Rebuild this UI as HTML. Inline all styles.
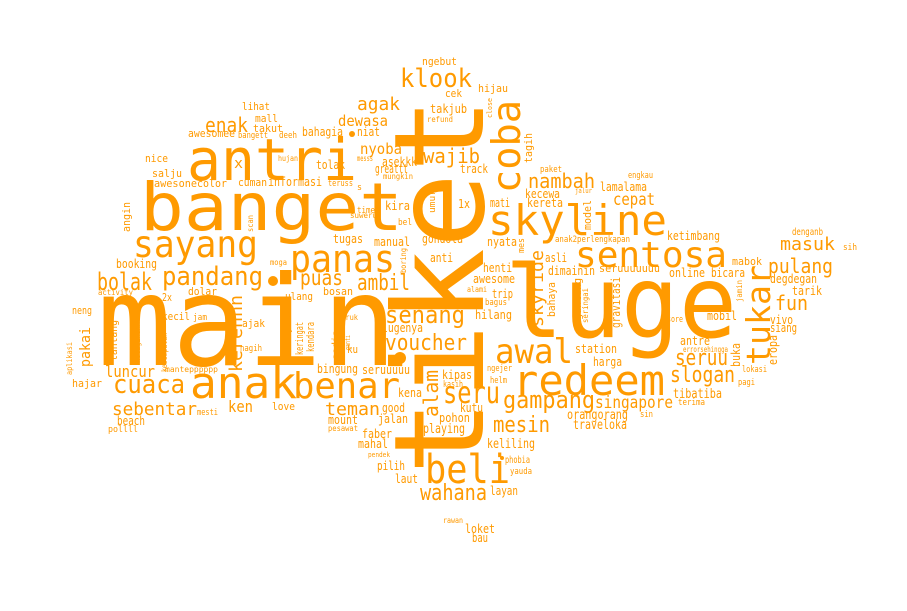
<!DOCTYPE html>
<html><head><meta charset="utf-8"><style>
html,body{margin:0;padding:0;background:#fff;}
svg{display:block}
text{font-family:"DejaVu Sans Mono","Liberation Mono",monospace;fill:#ff9a00;}
</style></head><body>
<svg width="907" height="611" viewBox="0 0 907 611" xmlns="http://www.w3.org/2000/svg">
<g id="dots">
<circle cx="400" cy="358" r="6" fill="#ff9a00"/>
<circle cx="273" cy="281" r="5" fill="#ff9a00"/>
<circle cx="352" cy="134" r="3" fill="#ff9a00"/>
<circle cx="502" cy="458" r="2" fill="#ff9a00"/>
</g>
<g id="words"></g>
</svg>
<script>
// [word, x, baselineY, fontSize, length, vertical]
const words = [
["main",97,365,125,300,0],
["tiket",483,475,125,378,1],
["luge",505,337,100,232,0],
["banget",140,230,66,263,0],
["antri",187,180,58,170,0],
["coba",520,193,39,93,1],
["skyline",488,235,42,179,0],
["sayang",133,257,37,125,0],
["panas",290,272,38,105,0],
["sentosa",575,267,36,152,0],
["anak",190,398,44,107,0],
["benar",293,398,36,107,0],
["redeem",513,395,42,152,0],
["awal",495,363,34,78,0],
["beli",425,483,40,85,0],
["tukar",770,365,33,100,1],
["klook",400,87,26,72,0],
["agak",357,110,18,43,0],
["enak",205,132,20,43,0],
["dewasa",338,126,15,50,0],
["nyoba",360,154,15,42,0],
["wajib",423,163,20,57,0],
["nambah",528,188,20,67,0],
["cepat",613,205,17,42,0],
["pandang",162,285,26,101,0],
["puas",300,285,21,43,0],
["ambil",357,290,22,53,0],
["bolak",97,290,24,55,0],
["senang",385,323,24,80,0],
["voucher",385,350,22,82,0],
["seru",443,403,30,57,0],
["gampang",503,408,24,92,0],
["seruu",675,365,22,53,0],
["slogan",670,382,22,65,0],
["pulang",768,273,20,65,0],
["masuk",780,250,18,55,0],
["fun",775,310,20,33,0],
["cuaca",113,393,26,72,0],
["sebentar",112,415,18,85,0],
["ken",228,412,16,25,0],
["teman",325,415,18,55,0],
["mesin",493,432,22,57,0],
["wahana",420,500,22,67,0],
["skyride",543,327,18,77,1],
["alam",438,417,20,47,1],
["kerennn",242,372,18,77,1],
["singapore",595,408,17,78,0],
["luncur",105,377,16,50,0],
["pakai",90,367,14,40,1],
["lugenya",382,332,12,41,0],
["ngebut",422,65,11,35,0],
["cek",445,97,11,17,0],
["hijau",478,92,11,30,0],
["takjub",430,113,12,37,0],
["refund",427,122,8,26,0],
["fisik",433,143,8,20,0],
["close",492,118,7,20,1],
["tagih",532,163,11,30,1],
["lihat",242,110,11,28,0],
["mall",255,122,11,23,0],
["takut",253,132,11,30,0],
["awesomee",188,137,11,47,0],
["bangett",238,138,9,30,0],
["deeh",279,138,9,18,0],
["bahagia",302,136,12,41,0],
["niat",357,136,12,23,0],
["nice",145,162,11,23,0],
["x",234,168,14,9,0],
["hujan",278,161,8,20,0],
["messs",357,161,8,16,0],
["asekkk",382,166,12,35,0],
["tolak",316,169,12,29,0],
["greattt",375,173,12,33,0],
["mungkin",383,179,8,30,0],
["salju",152,177,11,30,0],
["awesone",154,187,11,43,0],
["color",197,187,11,30,0],
["cuman",238,186,11,29,0],
["informasi",268,186,12,54,0],
["teruss",328,186,9,25,0],
["s",357,190,9,5,0],
["umur",435,213,9,23,1],
["kira",385,210,12,25,0],
["time",357,213,9,18,0],
["suweru",350,218,8,27,0],
["bel",398,225,9,14,0],
["angin",130,232,11,30,1],
["scan",253,232,8,17,1],
["tugas",333,243,12,30,0],
["manual",374,246,12,36,0],
["gondola",422,243,12,41,0],
["booking",116,268,12,41,0],
["moga",270,265,8,17,0],
["boring",406,273,8,25,1],
["anti",430,262,12,23,0],
["activity",98,295,8,35,0],
["dolar",188,295,11,29,0],
["bosan",323,295,11,30,0],
["2x",162,301,11,10,0],
["ulang",285,300,11,28,0],
["track",460,173,12,28,0],
["paket",540,172,9,22,0],
["engkau",628,178,9,25,0],
["jalur",575,193,7,17,0],
["lamalama",600,191,12,47,0],
["kecewa",525,198,12,35,0],
["1x",458,208,12,12,0],
["mati",490,207,12,20,0],
["kereta",527,207,12,36,0],
["model",591,230,11,30,1],
["nyata",487,246,12,30,0],
["mes",524,253,9,15,1],
["anak2perlengkapan",555,242,9,75,0],
["ketimbang",667,240,12,53,0],
["denganb",792,235,10,31,0],
["sih",843,250,9,14,0],
["asli",545,262,12,22,0],
["henti",483,272,12,29,0],
["dimainin",548,275,12,47,0],
["seruuuuuuu",599,272,11,61,0],
["online",669,277,12,36,0],
["bicara",711,277,12,34,0],
["mabok",732,265,11,30,0],
["degdegan",770,283,12,47,0],
["awesome",473,283,12,42,0],
["alami",467,292,8,20,0],
["trip",492,298,12,21,0],
["bagus",485,305,9,22,0],
["bahaya",555,317,11,35,1],
["gantung",581,320,11,42,1],
["seringai",588,323,8,35,1],
["gravitasi",620,328,12,51,1],
["jamin",742,302,8,22,1],
["hilang",475,319,12,37,0],
["sore",667,322,9,16,0],
["mobil",707,320,12,30,0],
["tarik",792,295,12,30,0],
["vivo",770,324,12,23,0],
["siang",770,332,12,27,0],
["eropa",777,365,12,30,1],
["buka",740,367,12,24,1],
["antre",680,345,12,30,0],
["errorsehingga",683,352,8,45,0],
["station",575,353,12,42,0],
["harga",593,366,12,29,0],
["lokasi",742,372,9,25,0],
["ngejer",487,371,9,25,0],
["helm",490,383,9,17,0],
["pagi",738,385,9,17,0],
["kipas",442,379,12,30,0],
["kasih",443,387,9,20,0],
["tibatiba",673,398,13,49,0],
["terima",678,405,9,27,0],
["kutu",460,412,12,23,0],
["sin",640,417,9,13,0],
["orangorang",567,419,13,61,0],
["pohon",439,422,12,31,0],
["traveloka",573,429,13,54,0],
["playing",423,433,13,42,0],
["keliling",487,448,13,48,0],
["phobia",505,463,10,25,0],
["yauda",510,474,9,22,0],
["layan",490,495,12,28,0],
["rawan",443,523,8,20,0],
["loket",465,533,12,30,0],
["bau",472,542,12,16,0],
["neng",72,314,11,20,0],
["aplikasi",72,375,8,33,1],
["hajar",72,387,11,30,0],
["tantang",117,361,11,41,1],
["ketagihann",140,363,8,41,1],
["kesempatan",167,372,8,39,1],
["kecil",162,320,11,28,0],
["jam",193,320,9,14,0],
["buruk",337,320,8,21,0],
["ajak",242,327,11,23,0],
["nagih",240,351,9,22,0],
["nyesel",290,337,11,27,1],
["keringat",303,355,11,33,1],
["kendara",314,352,11,30,1],
["sedia",339,360,10,30,1],
["ganti",350,350,7,15,1],
["ku",347,353,11,11,0],
["mantepppppp",165,372,8,53,0],
["bingung",317,373,12,41,0],
["seruuuuu",362,374,12,48,0],
["kena",398,397,12,24,0],
["mesti",197,415,9,21,0],
["love",272,410,11,23,0],
["good",382,412,12,23,0],
["beach",117,425,12,28,0],
["pollll",108,432,9,30,0],
["mount",328,424,12,30,0],
["jalan",378,423,12,30,0],
["pesawat",328,431,8,30,0],
["faber",362,438,12,30,0],
["mahal",358,448,12,30,0],
["pendek",368,457,7,22,0],
["pilih",377,470,12,28,0],
["laut",395,483,12,23,0]
];
const g = document.getElementById('words');
const ns = "http://www.w3.org/2000/svg";
for (const [w, x, y, fs, len, rot] of words) {
  const t = document.createElementNS(ns, 'text');
  
  
  t.setAttribute('font-size', fs);
  t.setAttribute('textLength', len);
  t.setAttribute('lengthAdjust', 'spacingAndGlyphs');
  if (rot) {
    t.setAttribute('transform', 'translate(' + x + ',' + y + ') rotate(-90)');
  } else {
    t.setAttribute('x', x);
    t.setAttribute('y', y);
  }
  if (fs < 13) t.setAttribute('fill', '#ffa825');
  t.textContent = w;
  g.appendChild(t);
}
</script>
</body></html>
